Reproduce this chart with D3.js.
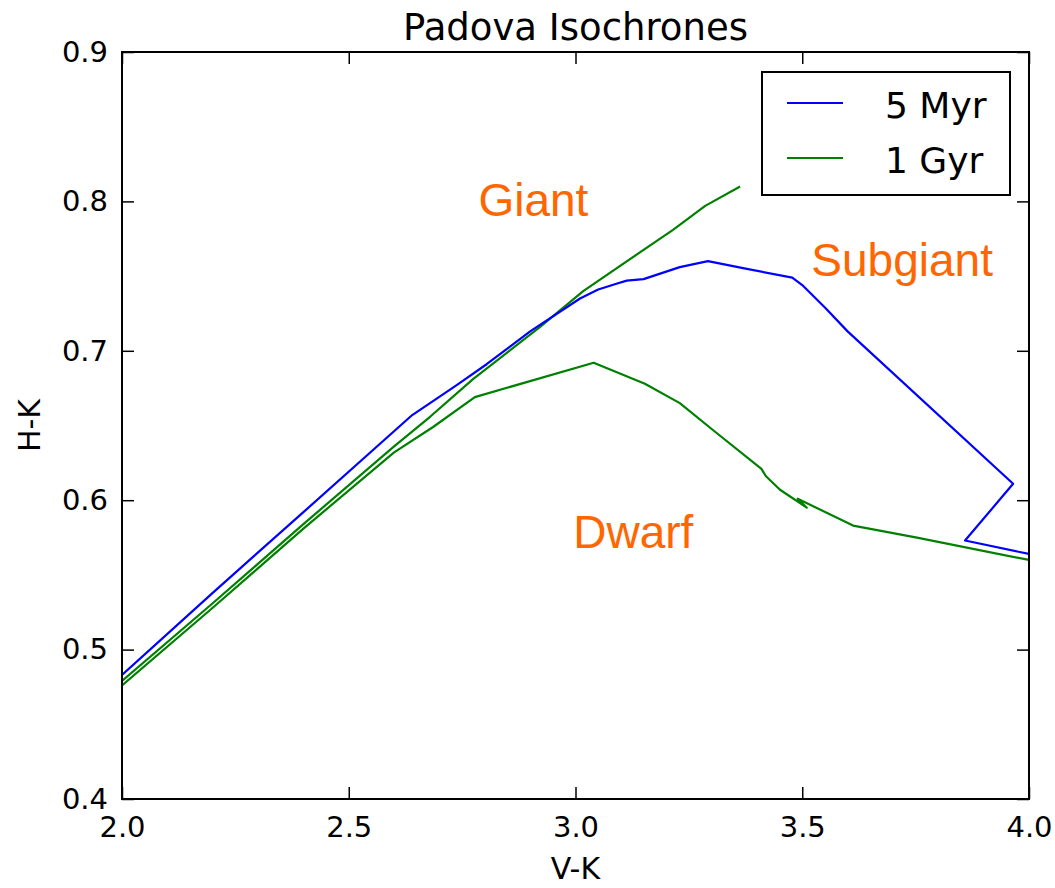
<!DOCTYPE html>
<html>
<head>
<meta charset="utf-8">
<script src="https://cdn.jsdelivr.net/npm/d3@7"></script>
<style>
  html, body { margin: 0; padding: 0; background: #fff; }
  svg { display: block; }
</style>
</head>
<body>
<svg id="chart" width="1055" height="888"></svg>
<script>
// ---- data ----
const xTicks = [2.0, 2.5, 3.0, 3.5, 4.0];
const yTicks = [0.4, 0.5, 0.6, 0.7, 0.8, 0.9];

// 5 Myr isochrone [V-K, H-K]
const myr5 = [
  [2.0, 0.483], [2.2, 0.538], [2.4, 0.592], [2.64, 0.657], [2.738, 0.677],
  [2.804, 0.691], [2.9, 0.713], [3.01, 0.735], [3.05, 0.741], [3.092, 0.745],
  [3.113, 0.747], [3.15, 0.748], [3.23, 0.756], [3.292, 0.760], [3.375, 0.755],
  [3.478, 0.749], [3.5, 0.744], [3.55, 0.729], [3.6, 0.713], [3.965, 0.611],
  [3.859, 0.573], [4.0, 0.564]
];

// 1 Gyr isochrone, dwarf (main sequence) branch
const gyr1Dwarf = [
  [2.0, 0.476], [2.2, 0.528], [2.4, 0.581], [2.6, 0.632], [2.686, 0.649],
  [2.778, 0.669], [3.04, 0.692], [3.153, 0.678], [3.23, 0.665], [3.303, 0.647],
  [3.41, 0.621], [3.42, 0.616], [3.451, 0.607], [3.51, 0.595], [3.49, 0.601],
  [3.612, 0.583], [3.753, 0.575], [4.0, 0.560]
];

// 1 Gyr isochrone, giant branch
const gyr1Giant = [
  [2.0, 0.479], [2.2, 0.531], [2.4, 0.584], [2.6, 0.636], [2.68, 0.656],
  [2.774, 0.681], [2.922, 0.716], [3.017, 0.740], [3.215, 0.781], [3.286, 0.797],
  [3.363, 0.810]
];

const seriesNames = ["5 Myr", "1 Gyr"];
const seriesColors = ["#0000ff", "#008000"];

const labels = [
  { text: "Giant", x: 2.786, y: 0.790 },
  { text: "Subgiant", x: 3.520, y: 0.750 },
  { text: "Dwarf", x: 2.995, y: 0.568 }
];

// ---- layout ----
const margin = { left: 122, top: 52, right: 26, bottom: 89 };
const W = 1055, H = 888;
const iw = W - margin.left - margin.right;
const ih = H - margin.top - margin.bottom;

const svg = d3.select("#chart");
const g = svg.append("g").attr("transform", `translate(${margin.left},${margin.top})`);

const x = d3.scaleLinear().domain([2.0, 4.0]).range([0, iw]);
const y = d3.scaleLinear().domain([0.4, 0.9]).range([ih, 0]);

svg.append("defs").append("clipPath").attr("id", "clip")
  .append("rect").attr("width", iw).attr("height", ih);

const line = d3.line().x(d => x(d[0])).y(d => y(d[1]));

const lines = g.append("g").attr("clip-path", "url(#clip)");
lines.append("path").datum(gyr1Dwarf).attr("d", line)
  .attr("fill", "none").attr("stroke", seriesColors[1]).attr("stroke-width", 2.2).attr("stroke-linejoin", "round");
lines.append("path").datum(gyr1Giant).attr("d", line)
  .attr("fill", "none").attr("stroke", seriesColors[1]).attr("stroke-width", 2.2).attr("stroke-linejoin", "round");
lines.append("path").datum(myr5).attr("d", line)
  .attr("fill", "none").attr("stroke", seriesColors[0]).attr("stroke-width", 2.2).attr("stroke-linejoin", "round");

// ---- axes ----
const fontAxis = "'DejaVu Sans', sans-serif";
function styleAxis(sel) {
  sel.select(".domain").remove();
  sel.selectAll(".tick line").attr("stroke", "#000").attr("stroke-width", 1.5);
  sel.selectAll(".tick text").attr("font-family", fontAxis).attr("font-size", 29).attr("fill", "#000");
}
g.append("g").attr("transform", `translate(0,${ih})`)
  .call(d3.axisBottom(x).tickValues(xTicks).tickFormat(d3.format(".1f")).tickSize(-12).tickPadding(17))
  .call(styleAxis);
g.append("g")
  .call(d3.axisTop(x).tickValues(xTicks).tickFormat("").tickSize(-12))
  .call(styleAxis);
g.append("g")
  .call(d3.axisLeft(y).tickValues(yTicks).tickFormat(d3.format(".1f")).tickSize(-12).tickPadding(14))
  .call(styleAxis);
g.append("g").attr("transform", `translate(${iw},0)`)
  .call(d3.axisRight(y).tickValues(yTicks).tickFormat("").tickSize(-12))
  .call(styleAxis);

// frame
g.append("rect").attr("width", iw).attr("height", ih)
  .attr("fill", "none").attr("stroke", "#000").attr("stroke-width", 2);

// titles
svg.append("text").attr("x", margin.left + iw / 2).attr("y", 40)
  .attr("text-anchor", "middle").attr("font-family", fontAxis).attr("font-size", 37)
  .text("Padova Isochrones");
svg.append("text").attr("x", margin.left + iw / 2).attr("y", 879)
  .attr("text-anchor", "middle").attr("font-family", fontAxis).attr("font-size", 30)
  .text("V-K");
svg.append("text").attr("transform", `translate(40,${margin.top + ih / 2}) rotate(-90)`)
  .attr("text-anchor", "middle").attr("font-family", fontAxis).attr("font-size", 30)
  .text("H-K");

// annotations
g.selectAll(".ann").data(labels).enter().append("text")
  .attr("x", d => x(d.x)).attr("y", d => y(d.y))
  .attr("font-family", "'Liberation Sans', Arial, sans-serif").attr("font-size", 46)
  .attr("fill", "#ff6600").text(d => d.text);

// legend
const lg = svg.append("g").attr("transform", "translate(762,72)");
lg.append("rect").attr("width", 248).attr("height", 123)
  .attr("fill", "#fff").attr("stroke", "#000").attr("stroke-width", 2);
seriesNames.forEach((name, i) => {
  const yy = 31 + i * 55;
  lg.append("line").attr("x1", 25).attr("x2", 81).attr("y1", yy).attr("y2", yy)
    .attr("stroke", seriesColors[i]).attr("stroke-width", 2.2);
  lg.append("text").attr("x", 123).attr("y", yy + 15)
    .attr("font-family", fontAxis).attr("font-size", 36).text(name);
});
</script>
</body>
</html>
